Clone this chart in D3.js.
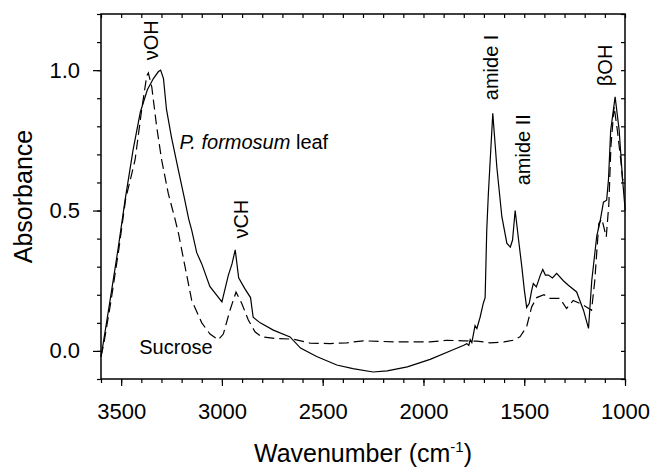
<!DOCTYPE html>
<html lang="en">
<head>
    <meta charset="UTF-8">
    <title>FTIR spectra</title>
    <script src="https://d3js.org/d3.v7.min.js"></script>
    <style>
        body { margin: 0; background: #fff; }
        svg text { font-family: "Liberation Sans", Arial, sans-serif; fill: #000; }
        .curve { fill: none; stroke: #000; stroke-width: 1.2px; }
        .dashed { stroke-dasharray: 10,5; }
        .axis path { display: none; }
        .axis line { stroke: #000; stroke-width: 1.2px; }
        .axis text { font-size: 22px; }
    </style>
</head>
<body>
    <div id="chart"></div>
    <script>
        // wavenumber (cm-1) and absorbance
        var leafWave = [3600, 3595, 3555, 3516, 3480, 3441, 3405, 3370, 3340, 3315, 3304, 3290, 3275, 3250, 3215,
            3185, 3165, 3150, 3125, 3100, 3060, 3000, 2968, 2950, 2934, 2917, 2885, 2858, 2845, 2810, 2745,
            2662, 2610, 2530, 2430, 2350, 2250, 2180, 2080, 1967, 1850, 1800, 1785, 1775, 1768, 1760, 1752,
            1744, 1735, 1719, 1703, 1694, 1686, 1678, 1656, 1636, 1611, 1586, 1569, 1558, 1545, 1528, 1512,
            1500, 1488, 1475, 1463, 1455, 1440, 1420, 1408, 1395, 1380, 1360, 1339, 1306, 1281, 1240, 1206,
            1181, 1165, 1140, 1124, 1107, 1091, 1082, 1071, 1049, 1029, 1012, 999];
        var leafAbs = [-0.02, 0.0, 0.18, 0.36, 0.54, 0.715, 0.85, 0.93, 0.97, 0.995, 1.0, 0.97, 0.86, 0.76, 0.64,
            0.54, 0.47, 0.43, 0.35, 0.31, 0.23, 0.175, 0.27, 0.31, 0.36, 0.26, 0.22, 0.19, 0.12, 0.1, 0.074,
            0.05, 0.01, -0.02, -0.05, -0.063, -0.075, -0.071, -0.057, -0.03, 0.005, 0.02, 0.026, 0.02, 0.04, 0.03, 0.06,
            0.09, 0.08, 0.12, 0.17, 0.19, 0.43, 0.56, 0.846, 0.655, 0.478, 0.383, 0.37, 0.395, 0.5, 0.395, 0.3,
            0.22, 0.155, 0.17, 0.216, 0.24, 0.228, 0.27, 0.29, 0.27, 0.27, 0.26, 0.276, 0.25, 0.234, 0.21, 0.145,
            0.08, 0.25, 0.41, 0.46, 0.53, 0.537, 0.61, 0.786, 0.905, 0.786, 0.61, 0.5];

        var sucroseWave = [3600, 3585, 3550, 3512, 3478, 3431, 3398, 3373, 3365, 3348, 3324, 3299, 3266,
            3233, 3216, 3183, 3150, 3100, 3059, 3018, 2993, 2960, 2930, 2902, 2869, 2836, 2803, 2728, 2646,
            2563, 2464, 2381, 2298, 2133, 1967, 1884, 1802, 1736, 1670, 1600, 1554, 1521, 1488, 1463, 1438,
            1402, 1372, 1323, 1290, 1257, 1206, 1166, 1150, 1130, 1115, 1093, 1080, 1070, 1054, 1038, 1021, 1012, 1000];
        var sucroseAbs = [-0.02, 0.03, 0.18, 0.36, 0.54, 0.68, 0.86, 0.98, 0.99, 0.94, 0.8, 0.68, 0.56,
            0.47, 0.42, 0.3, 0.18, 0.1, 0.06, 0.04, 0.06, 0.145, 0.21, 0.17, 0.11, 0.068, 0.05, 0.044, 0.042,
            0.028, 0.026, 0.029, 0.036, 0.032, 0.032, 0.038, 0.036, 0.035, 0.029, 0.032, 0.038, 0.05, 0.086, 0.157, 0.19,
            0.2, 0.187, 0.187, 0.151, 0.18, 0.163, 0.145, 0.25, 0.454, 0.47, 0.406, 0.525, 0.727, 0.87, 0.786, 0.68, 0.61, 0.61];

        var xMajor = [3500, 3000, 2500, 2000, 1500, 1000];
        var xMinor = d3.range(3600, 999, -100);
        var yMajor = [0.0, 0.5, 1.0];
        var yMinor = d3.range(-0.1, 1.201, 0.1);

        var width = 652, height = 467;
        var margin = { top: 14, right: 27, bottom: 88, left: 101 };
        var w = width - margin.left - margin.right;
        var h = height - margin.top - margin.bottom;

        var svg = d3.select("#chart").append("svg")
            .attr("width", width)
            .attr("height", height);
        var g = svg.append("g")
            .attr("transform", `translate(${margin.left},${margin.top})`);

        var x = d3.scaleLinear().domain([3600, 1000]).range([0, w]);
        var y = d3.scaleLinear().domain([-0.1, 1.2]).range([h, 0]);

        // ticks: outside on left/bottom, inside on top/right
        g.append("g").attr("class", "axis")
            .attr("transform", `translate(0,${h})`)
            .call(d3.axisBottom(x).tickValues(xMinor).tickSize(4).tickFormat(""));
        g.append("g").attr("class", "axis")
            .attr("transform", `translate(0,${h})`)
            .call(d3.axisBottom(x).tickValues(xMajor).tickSize(7).tickPadding(17).tickFormat(d3.format("d")));
        g.append("g").attr("class", "axis")
            .call(d3.axisTop(x).tickValues(xMinor).tickSize(-4).tickFormat(""));
        g.append("g").attr("class", "axis")
            .call(d3.axisLeft(y).tickValues(yMinor).tickSize(4).tickFormat(""));
        g.append("g").attr("class", "axis")
            .call(d3.axisLeft(y).tickValues(yMajor).tickSize(8).tickPadding(13).tickFormat(d3.format(".1f")));
        g.append("g").attr("class", "axis")
            .attr("transform", `translate(${w},0)`)
            .call(d3.axisRight(y).tickValues(yMinor).tickSize(-4).tickFormat(""));

        g.append("rect")
            .attr("width", w).attr("height", h)
            .attr("fill", "none").attr("stroke", "#000").attr("stroke-width", 1.5);

        var line = d3.line()
            .x(d => x(d[0]))
            .y(d => y(d[1]));

        g.append("path")
            .datum(d3.zip(sucroseWave, sucroseAbs))
            .attr("class", "curve dashed")
            .attr("d", line);

        g.append("path")
            .datum(d3.zip(leafWave, leafAbs))
            .attr("class", "curve")
            .attr("d", line);

        // band labels, rotated
        var bands = [
            { text: "\u03bdOH", w: 3317, a: 1.035 },
            { text: "\u03bdCH", w: 2872, a: 0.40 },
            { text: "amide I", w: 1632, a: 0.893 },
            { text: "amide II", w: 1473, a: 0.59 },
            { text: "\u03b2OH", w: 1063, a: 0.943 }
        ];
        g.selectAll(".band").data(bands).enter().append("text")
            .attr("class", "band")
            .attr("transform", d => `translate(${x(d.w)},${y(d.a)}) rotate(-90)`)
            .style("font-size", "20px")
            .text(d => d.text);

        var leafLabel = g.append("text")
            .attr("x", x(3210)).attr("y", y(0.72))
            .style("font-size", "20px");
        leafLabel.append("tspan").style("font-style", "italic").text("P. formosum");
        leafLabel.append("tspan").text(" leaf");

        g.append("text")
            .attr("x", x(3410)).attr("y", y(-0.01))
            .style("font-size", "20px")
            .text("Sucrose");

        // axis titles
        var xTitle = svg.append("text")
            .attr("x", margin.left + w / 2).attr("y", 462)
            .attr("text-anchor", "middle")
            .style("font-size", "25px");
        xTitle.append("tspan").text("Wavenumber (cm");
        xTitle.append("tspan").attr("dy", -10).style("font-size", "15px").text("-1");
        xTitle.append("tspan").attr("dy", 10).text(")");

        svg.append("text")
            .attr("transform", `translate(32,${margin.top + y(0.55)}) rotate(-90)`)
            .attr("text-anchor", "middle")
            .style("font-size", "25px")
            .text("Absorbance");
    </script>
</body>
</html>
